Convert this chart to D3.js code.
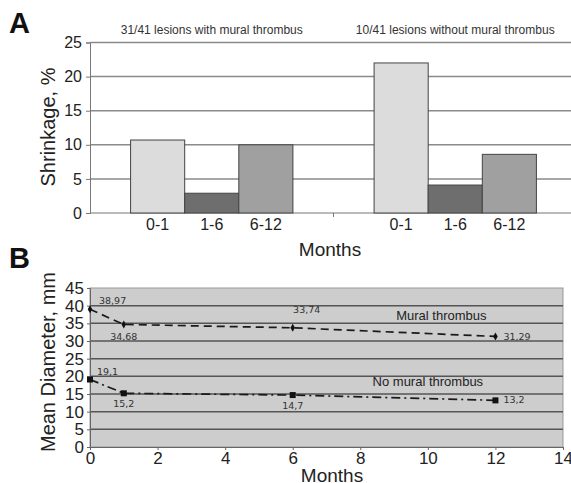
<!DOCTYPE html>
<html>
<head>
<meta charset="utf-8">
<script src="https://cdn.jsdelivr.net/npm/d3@7"></script>
<style>
  body { margin: 0; background: #fff; }
  svg { display: block; font-family: "Liberation Sans", Arial, sans-serif; }
</style>
</head>
<body>
<script>
// panel A data
var groups = ["31/41 lesions with mural thrombus", "10/41 lesions without mural thrombus"];
var periods = ["0-1", "1-6", "6-12"];
var shrinkWith = [10.7, 2.9, 10.0];
var shrinkWithout = [22.0, 4.1, 8.6];
var shrinkTicks = [0, 5, 10, 15, 20, 25];

// panel B data
var months = [0, 1, 6, 12];
var muralVals = [38.97, 34.68, 33.74, 31.29];
var noMuralVals = [19.1, 15.2, 14.7, 13.2];
var muralLabels = ["38,97", "34,68", "33,74", "31,29"];
var noMuralLabels = ["19,1", "15,2", "14,7", "13,2"];
var diamTicks = [0, 5, 10, 15, 20, 25, 30, 35, 40, 45];
var monthTicks = [0, 2, 4, 6, 8, 10, 12, 14];

var width = 571, height = 483;
var svg = d3.select("body").append("svg")
    .attr("width", width)
    .attr("height", height);

// ---------- panel A ----------
var xA = d3.scaleBand().domain(groups).range([90, 577]);
var xInner = d3.scaleBand().domain(periods).range([0, xA.bandwidth()])
    .paddingInner(0).paddingOuter(0.75);
var yA = d3.scaleLinear().domain([0, 25]).range([213, 42.5]);
var barColor = d3.scaleOrdinal().domain(periods).range(["#dcdcdc", "#6e6e6e", "#a0a0a0"]);

var gA = svg.append("g");

gA.selectAll(".gridA")
    .data(shrinkTicks.filter(function(t){ return t > 0; }))
    .enter().append("line")
    .attr("x1", 90).attr("x2", 577)
    .attr("y1", function(d){ return yA(d); })
    .attr("y2", function(d){ return yA(d); })
    .attr("stroke", "#8a8a8a")
    .attr("stroke-width", 1.5);

var yAxisA = gA.append("g")
    .attr("transform", "translate(90,0)")
    .call(d3.axisLeft(yA).tickValues(shrinkTicks).tickSize(4).tickPadding(4));
yAxisA.select(".domain").attr("stroke", "#777");
yAxisA.selectAll(".tick line").attr("stroke", "#777");
yAxisA.selectAll("text").attr("font-size", 16).attr("fill", "#222")
    .attr("font-family", "Liberation Sans, Arial, sans-serif");

// baseline + group separators
gA.append("line").attr("x1", 90).attr("x2", 577)
    .attr("y1", yA(0)).attr("y2", yA(0))
    .attr("stroke", "#777").attr("stroke-width", 1.2);
gA.selectAll(".sep").data([xA(groups[1])]).enter().append("line")
    .attr("x1", function(d){ return d; }).attr("x2", function(d){ return d; })
    .attr("y1", yA(0)).attr("y2", yA(0) + 4)
    .attr("stroke", "#777");

var barData = [];
groups.forEach(function(g, gi){
    var vals = gi === 0 ? shrinkWith : shrinkWithout;
    periods.forEach(function(p, pi){
        barData.push({group: g, period: p, value: vals[pi]});
    });
});

gA.selectAll(".bar")
    .data(barData)
    .enter().append("rect")
    .attr("x", function(d){ return xA(d.group) + xInner(d.period); })
    .attr("y", function(d){ return yA(d.value); })
    .attr("width", xInner.bandwidth())
    .attr("height", function(d){ return yA(0) - yA(d.value); })
    .attr("fill", function(d){ return barColor(d.period); })
    .attr("stroke", "#444")
    .attr("stroke-width", 1);

gA.selectAll(".catLabel")
    .data(barData)
    .enter().append("text")
    .attr("x", function(d){ return xA(d.group) + xInner(d.period) + xInner.bandwidth() / 2; })
    .attr("y", 230)
    .attr("text-anchor", "middle")
    .attr("font-size", 16)
    .attr("fill", "#222")
    .text(function(d){ return d.period; });

gA.selectAll(".groupTitle")
    .data(groups)
    .enter().append("text")
    .attr("x", function(d){ return xA(d) + xA.bandwidth() / 2; })
    .attr("y", 34)
    .attr("text-anchor", "middle")
    .attr("font-size", 12)
    .attr("fill", "#333")
    .text(function(d){ return d; });

gA.append("text").attr("x", 330).attr("y", 256)
    .attr("text-anchor", "middle").attr("font-size", 19).attr("fill", "#222")
    .text("Months");

gA.append("text")
    .attr("transform", "translate(55,127) rotate(-90)")
    .attr("text-anchor", "middle").attr("font-size", 20).attr("fill", "#222")
    .text("Shrinkage, %");

svg.append("text").attr("x", 9).attr("y", 33)
    .attr("font-size", 29).attr("font-weight", "bold").attr("fill", "#111")
    .text("A");

// ---------- panel B ----------
var xB = d3.scaleLinear().domain([0, 14]).range([90, 563]);
var yB = d3.scaleLinear().domain([0, 45]).range([447, 288]);

var gB = svg.append("g");

gB.append("rect")
    .attr("x", xB(0)).attr("y", yB(45))
    .attr("width", xB(14) - xB(0)).attr("height", yB(0) - yB(45))
    .attr("fill", "#cdcdcd")
    .attr("stroke", "#999").attr("stroke-width", 1);

gB.selectAll(".gridB")
    .data(diamTicks.filter(function(t){ return t > 0 && t < 45; }))
    .enter().append("line")
    .attr("x1", xB(0)).attr("x2", xB(14))
    .attr("y1", function(d){ return yB(d); })
    .attr("y2", function(d){ return yB(d); })
    .attr("stroke", "#555")
    .attr("stroke-width", 1.5);

var yAxisB = gB.append("g")
    .attr("transform", "translate(" + xB(0) + ",0)")
    .call(d3.axisLeft(yB).tickValues(diamTicks).tickSize(3).tickPadding(3));
yAxisB.select(".domain").attr("stroke", "#666");
yAxisB.selectAll(".tick line").attr("stroke", "#666");
yAxisB.selectAll("text").attr("font-size", 17).attr("fill", "#222")
    .attr("font-family", "Liberation Sans, Arial, sans-serif");

var xAxisB = gB.append("g")
    .attr("transform", "translate(0," + yB(0) + ")")
    .call(d3.axisBottom(xB).tickValues(monthTicks).tickSize(3).tickPadding(2));
xAxisB.select(".domain").attr("stroke", "#666");
xAxisB.selectAll(".tick line").attr("stroke", "#666");
xAxisB.selectAll("text").attr("font-size", 17).attr("fill", "#222")
    .attr("font-family", "Liberation Sans, Arial, sans-serif");

var line = d3.line()
    .x(function(d){ return xB(d[0]); })
    .y(function(d){ return yB(d[1]); });

var muralPts = months.map(function(m, i){ return [m, muralVals[i]]; });
var noMuralPts = months.map(function(m, i){ return [m, noMuralVals[i]]; });

gB.append("path").datum(muralPts)
    .attr("d", line).attr("fill", "none")
    .attr("stroke", "#1a1a1a").attr("stroke-width", 1.7)
    .attr("stroke-dasharray", "8,5");

gB.append("path").datum(noMuralPts)
    .attr("d", line).attr("fill", "none")
    .attr("stroke", "#1a1a1a").attr("stroke-width", 1.7)
    .attr("stroke-dasharray", "9,4,2,4");

gB.selectAll(".mkMural").data(muralPts).enter().append("path")
    .attr("transform", function(d){ return "translate(" + xB(d[0]) + "," + yB(d[1]) + ")"; })
    .attr("d", d3.symbol().type(d3.symbolDiamond).size(18))
    .attr("fill", "#111");

gB.selectAll(".mkNoMural").data(noMuralPts).enter().append("rect")
    .attr("x", function(d){ return xB(d[0]) - 3; })
    .attr("y", function(d){ return yB(d[1]) - 3; })
    .attr("width", 6).attr("height", 6)
    .attr("fill", "#111");

// data label offsets: dx, dy, anchor
var muralOff = [[9, -5, "start"], [0, 16, "middle"], [14, -15, "middle"], [8, 4, "start"]];
var noMuralOff = [[7, -5, "start"], [0, 14, "middle"], [0, 14, "middle"], [8, 3, "start"]];

function addLabels(pts, labels, offs){
    gB.selectAll(null).data(pts).enter().append("text")
        .attr("x", function(d, i){ return xB(d[0]) + offs[i][0]; })
        .attr("y", function(d, i){ return yB(d[1]) + offs[i][1]; })
        .attr("text-anchor", function(d, i){ return offs[i][2]; })
        .attr("font-family", "DejaVu Sans, Verdana, sans-serif")
        .attr("font-size", 9.5)
        .attr("fill", "#333")
        .text(function(d, i){ return labels[i]; });
}
addLabels(muralPts, muralLabels, muralOff);
addLabels(noMuralPts, noMuralLabels, noMuralOff);

gB.append("text").attr("x", xB(10.4)).attr("y", yB(36.0))
    .attr("text-anchor", "middle").attr("font-size", 13).attr("fill", "#222")
    .text("Mural thrombus");
gB.append("text").attr("x", xB(10.0)).attr("y", yB(17.2))
    .attr("text-anchor", "middle").attr("font-size", 13).attr("fill", "#222")
    .text("No mural thrombus");

gB.append("text").attr("x", 332).attr("y", 482)
    .attr("text-anchor", "middle").attr("font-size", 19).attr("fill", "#222")
    .text("Months");

gB.append("text")
    .attr("transform", "translate(55,362) rotate(-90)")
    .attr("text-anchor", "middle").attr("font-size", 20).attr("fill", "#222")
    .text("Mean Diameter, mm");

svg.append("text").attr("x", 9).attr("y", 268)
    .attr("font-size", 29).attr("font-weight", "bold").attr("fill", "#111")
    .text("B");
</script>
</body>
</html>
